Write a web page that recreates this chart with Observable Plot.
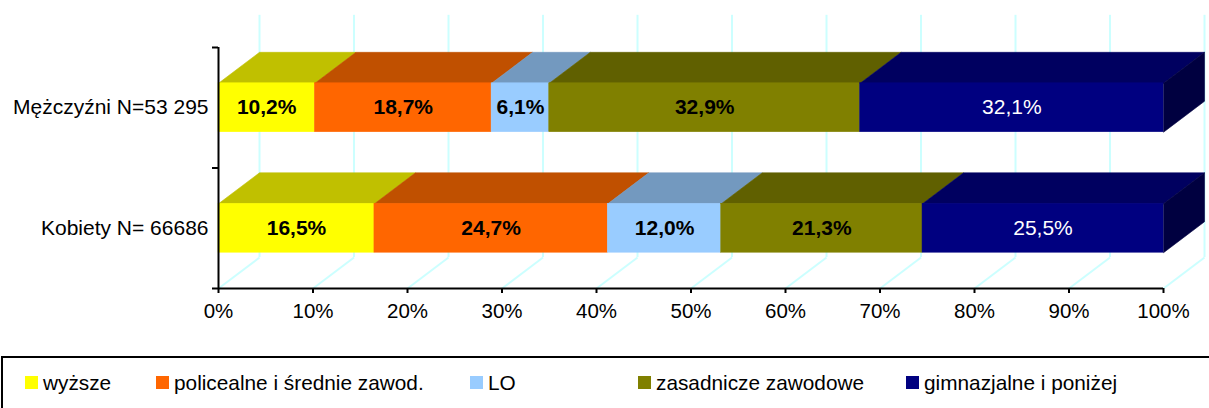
<!DOCTYPE html>
<html><head><meta charset="utf-8">
<script src="https://cdn.jsdelivr.net/npm/d3@7"></script>
<script src="https://cdn.jsdelivr.net/npm/@observablehq/plot@0.6"></script>
<style>
html,body{margin:0;padding:0;background:#fff;overflow:hidden;width:1209px;height:408px;}
body{font-family:"Liberation Sans",Arial,sans-serif;position:relative;}
#chart{position:absolute;left:0;top:0;}
#legend{position:absolute;left:1px;top:356px;width:1240px;height:90px;border:2px solid #000;box-sizing:border-box;}
.sw{position:absolute;top:376px;width:13px;height:13px;}
.lt{position:absolute;top:371px;font-size:20.8px;line-height:24px;color:#000;white-space:nowrap;}
</style></head>
<body>
<div id="chart"></div>
<div id="legend"></div>
<div id="items"></div>
<script>
const categories = ["Mężczyźni N=53 295", "Kobiety N= 66686"];
const series = ["wyższe", "policealne i średnie zawod.", "LO", "zasadnicze zawodowe", "gimnazjalne i poniżej"];
const men = [10.2, 18.7, 6.1, 32.9, 32.1];
const women = [16.5, 24.7, 12.0, 21.3, 25.5];
const xTicks = [0, 10, 20, 30, 40, 50, 60, 70, 80, 90, 100];

const frontColors = ["#ffff00", "#ff6600", "#99ccff", "#808000", "#000080"];
const topColors = ["#c0c000", "#c05000", "#7399bf", "#606000", "#000060"];
const sideColor = "#000040";
const gridColor = "#ccffff";

const rowValues = [men, women];
const rowY = [1.5, 0.5];
const DX = 4.34, DY = 0.257, HALF = 0.203;

const segs = [];
const topPts = [];
const sidePts = [];
rowValues.forEach((vals, r) => {
  let acc = 0;
  vals.forEach((v, s) => {
    const x1 = acc, x2 = acc + v; acc = x2;
    const y = rowY[r];
    segs.push({r, s, x1, x2, y, v, cat: categories[r], ser: series[s]});
    const yt = y + HALF, id = r + "-" + s;
    [[x1, yt], [x2, yt], [x2 + DX, yt + DY], [x1 + DX, yt + DY], [x1, yt]]
      .forEach(([x, yy]) => topPts.push({id, s, x, y: yy}));
    if (s === vals.length - 1) {
      const yb = y - HALF;
      [[x2, yt], [x2 + DX, yt + DY], [x2 + DX, yb + DY], [x2, yb], [x2, yt]]
        .forEach(([x, yy]) => sidePts.push({id: "side" + r, x, y: yy}));
    }
  });
});

const fmt = v => v.toFixed(1).replace(".", ",") + "%";

const marks = [
  Plot.ruleX(xTicks, {x: d => d + DX, y1: DY, y2: 2 + DY + 0.01, stroke: gridColor, strokeWidth: 2}),
  Plot.link(xTicks, {x1: d => d, y1: 0, x2: d => d + DX, y2: DY, stroke: gridColor, strokeWidth: 2}),
];
series.forEach((_, s) => {
  marks.push(Plot.line(topPts.filter(d => d.s === s), {x: "x", y: "y", z: "id", fill: topColors[s], stroke: topColors[s], strokeWidth: 0.6, curve: "linear"}));
});
marks.push(Plot.line(sidePts, {x: "x", y: "y", z: "id", fill: sideColor, stroke: sideColor, strokeWidth: 0.6}));
series.forEach((_, s) => {
  marks.push(Plot.rect(segs.filter(d => d.s === s), {x1: "x1", x2: "x2", y1: d => d.y - HALF, y2: d => d.y + HALF, fill: frontColors[s], stroke: frontColors[s], strokeWidth: 0.5}));
});
marks.push(
  Plot.text(segs.filter(d => d.s < 4), {x: d => (d.x1 + d.x2) / 2, y: "y", text: d => fmt(d.v), fill: "#000", fontWeight: "bold", fontSize: 21}),
  Plot.text(segs.filter(d => d.s === 4), {x: d => (d.x1 + d.x2) / 2, y: "y", text: d => fmt(d.v), fill: "#fff", fontSize: 21}),
  Plot.axisX(xTicks, {tickSize: 5, tickPadding: 10, tickFormat: d => d + "%", fontSize: 20.5, stroke: "#000", strokeWidth: 2, fill: "#000", label: null}),
  Plot.axisY([0, 1, 2], {tickSize: 6, tickFormat: () => "", stroke: "#000", strokeWidth: 2, label: null}),
  Plot.axisY(rowY, {tickSize: 0, tickPadding: 10, tickFormat: d => categories[rowY.indexOf(d)], fontSize: 21, fill: "#000", label: null}),
  Plot.ruleY([0], {x1: 0, x2: 100, stroke: "#000", strokeWidth: 2}),
  Plot.ruleX([0], {y1: 0, y2: 2, stroke: "#000", strokeWidth: 2})
);

const chart = Plot.plot({
  width: 1209, height: 345,
  marginLeft: 218, marginRight: 46, marginTop: 47, marginBottom: 57,
  x: {domain: [0, 100], axis: null},
  y: {domain: [0, 2], axis: null},
  style: {fontFamily: "Liberation Sans, Arial, sans-serif", fontSize: "20px", background: "#fff", overflow: "visible"},
  marks
});
document.getElementById("chart").appendChild(chart);

const legendX = [25, 156, 470, 638, 906];
const items = document.getElementById("items");
series.forEach((name, i) => {
  const sw = document.createElement("div");
  sw.className = "sw"; sw.style.left = legendX[i] + "px"; sw.style.background = frontColors[i];
  const t = document.createElement("div");
  t.className = "lt"; t.style.left = (legendX[i] + 18) + "px"; t.textContent = name;
  items.appendChild(sw); items.appendChild(t);
});
</script>
</body></html>
